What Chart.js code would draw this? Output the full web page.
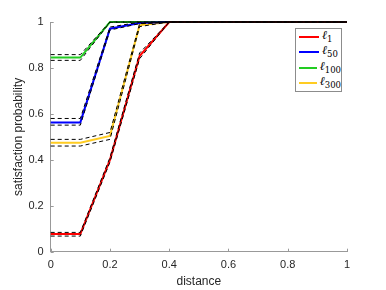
<!DOCTYPE html>
<html>
<head>
<meta charset="utf-8">
<script src="https://cdn.jsdelivr.net/npm/chart.js@4.4.0/dist/chart.umd.min.js"></script>
<style>
  body { margin: 0; background: #fff; }
  #wrap { position: relative; width: 386px; height: 290px; }
  #legend {
    position: absolute; left: 295px; top: 28px; width: 45px;
    border: 1px solid #8c8c8c; background: #fff; padding: 0;
    font-family: "DejaVu Serif", "Liberation Serif", serif; color: #000;
  }
  #legend .row { height: 15.5px; display: flex; align-items: center; }
  #legend .swatch { width: 20px; height: 2px; margin: 0 3px 0 3px; }
  #legend .lab { font-size: 12px; font-style: italic; line-height: 12px; }
  #legend sub { font-size: 8.5px; font-style: normal; vertical-align: -3px; }
</style>
</head>
<body>
<div id="wrap">
  <canvas id="myChart" width="386" height="290"></canvas>
  <div id="legend"></div>
</div>
<script>
(() => {
  'use strict'

  const distance = [0, 0.1, 0.2, 0.3, 0.4, 0.5, 0.6, 0.7, 0.8, 0.9, 1];

  // mean curves
  const l1   = [0.077, 0.077, 0.400, 0.852, 1, 1, 1, 1, 1, 1, 1];
  const l50  = [0.563, 0.563, 0.971, 0.996, 1, 1, 1, 1, 1, 1, 1];
  const l100 = [0.845, 0.845, 1, 1, 1, 1, 1, 1, 1, 1, 1];
  const l300 = [0.474, 0.474, 0.504, 0.986, 1, 1, 1, 1, 1, 1, 1];

  // dashed bounds
  const l1Lo   = [0.068, 0.068, 0.390, 0.840, 1, 1, 1, 1, 1, 1, 1];
  const l1Hi   = [0.084, 0.084, 0.410, 0.865, 1, 1, 1, 1, 1, 1, 1];
  const l50Lo  = [0.551, 0.551, 0.965, 0.993, 1, 1, 1, 1, 1, 1, 1];
  const l50Hi  = [0.580, 0.580, 0.978, 0.999, 1, 1, 1, 1, 1, 1, 1];
  const l100Lo = [0.833, 0.833, 0.999, 1, 1, 1, 1, 1, 1, 1, 1];
  const l100Hi = [0.858, 0.858, 1, 1, 1, 1, 1, 1, 1, 1, 1];
  const l300Lo = [0.460, 0.460, 0.489, 0.980, 1, 1, 1, 1, 1, 1, 1];
  const l300Hi = [0.489, 0.489, 0.519, 0.992, 1, 1, 1, 1, 1, 1, 1];

  const seriesSubs = ['1', '50', '100', '300'];
  const colors = ['#ff0000', '#0000ff', '#22cc22', '#ffcc22'];
  const means = [l1, l50, l100, l300];
  const bounds = [[l1Lo, l1Hi], [l50Lo, l50Hi], [l100Lo, l100Hi], [l300Lo, l300Hi]];

  const xTicks = [0, 0.2, 0.4, 0.6, 0.8, 1];
  const yTicks = [0, 0.2, 0.4, 0.6, 0.8, 1];

  const pts = arr => arr.map((y, i) => ({ x: distance[i], y }));

  const datasets = [];
  means.forEach((m, i) => {
    datasets.push({
      label: 'ℓ' + seriesSubs[i],
      data: pts(m),
      borderColor: colors[i],
      borderWidth: 2,
      pointRadius: 0,
      clip: false,
      order: 2
    });
  });
  bounds.forEach(b => {
    b.forEach(arr => {
      datasets.push({
        data: pts(arr),
        borderColor: '#000',
        borderWidth: 1,
        borderDash: [4, 3],
        pointRadius: 0,
        clip: false,
        order: 1
      });
    });
  });

  const fmt = v => String(+(+v).toFixed(1));

  // inward tick marks like matlab
  const innerTicks = {
    id: 'innerTicks',
    afterDraw(chart) {
      const { ctx, scales: { x, y } } = chart;
      ctx.save();
      ctx.strokeStyle = '#999';
      ctx.lineWidth = 1;
      ctx.beginPath();
      xTicks.forEach(v => {
        const px = Math.round(x.getPixelForValue(v)) + 0.5;
        ctx.moveTo(px, y.bottom);
        ctx.lineTo(px, y.bottom - 3);
      });
      yTicks.forEach(v => {
        const py = Math.round(y.getPixelForValue(v)) + 0.5;
        ctx.moveTo(x.left, py);
        ctx.lineTo(x.left + 3, py);
      });
      ctx.stroke();
      ctx.restore();
    }
  };

  const tickFont = { family: '"Liberation Sans", Arial, sans-serif', size: 11 };
  const titleFont = { family: '"Liberation Sans", Arial, sans-serif', size: 12 };

  new Chart(document.getElementById('myChart'), {
    type: 'line',
    data: { datasets },
    options: {
      responsive: false,
      animation: false,
      layout: { padding: { top: 22, right: 39, left: 0, bottom: 0 } },
      plugins: {
        legend: { display: false },
        tooltip: { enabled: false }
      },
      scales: {
        x: {
          type: 'linear',
          min: 0,
          max: 1,
          afterBuildTicks: s => { s.ticks = xTicks.map(v => ({ value: v })); },
          afterFit: s => { s.height = 38.3; },
          grid: { display: false, drawTicks: false },
          border: { display: true, color: '#999', width: 1 },
          ticks: { color: '#262626', font: tickFont, padding: 7, callback: fmt, maxRotation: 0 },
          title: { display: true, text: 'distance', color: '#262626', font: titleFont, padding: { top: 0, bottom: 1 } }
        },
        y: {
          min: 0,
          max: 1,
          afterBuildTicks: s => { s.ticks = yTicks.map(v => ({ value: v })); },
          afterFit: s => { s.width = 50.7; },
          grid: { display: false, drawTicks: false },
          border: { display: true, color: '#999', width: 1 },
          ticks: { color: '#262626', font: tickFont, padding: 7, callback: fmt },
          title: { display: true, text: 'satisfaction probability', color: '#262626', font: titleFont, padding: { top: 11, bottom: 0 } }
        }
      }
    },
    plugins: [innerTicks]
  });

  const legend = document.getElementById('legend');
  seriesSubs.forEach((s, i) => {
    const row = document.createElement('div');
    row.className = 'row';
    row.innerHTML = '<span class="swatch" style="background:' + colors[i] + '"></span>' +
      '<span class="lab">ℓ<sub>' + s + '</sub></span>';
    legend.appendChild(row);
  });
})()
</script>
</body>
</html>
